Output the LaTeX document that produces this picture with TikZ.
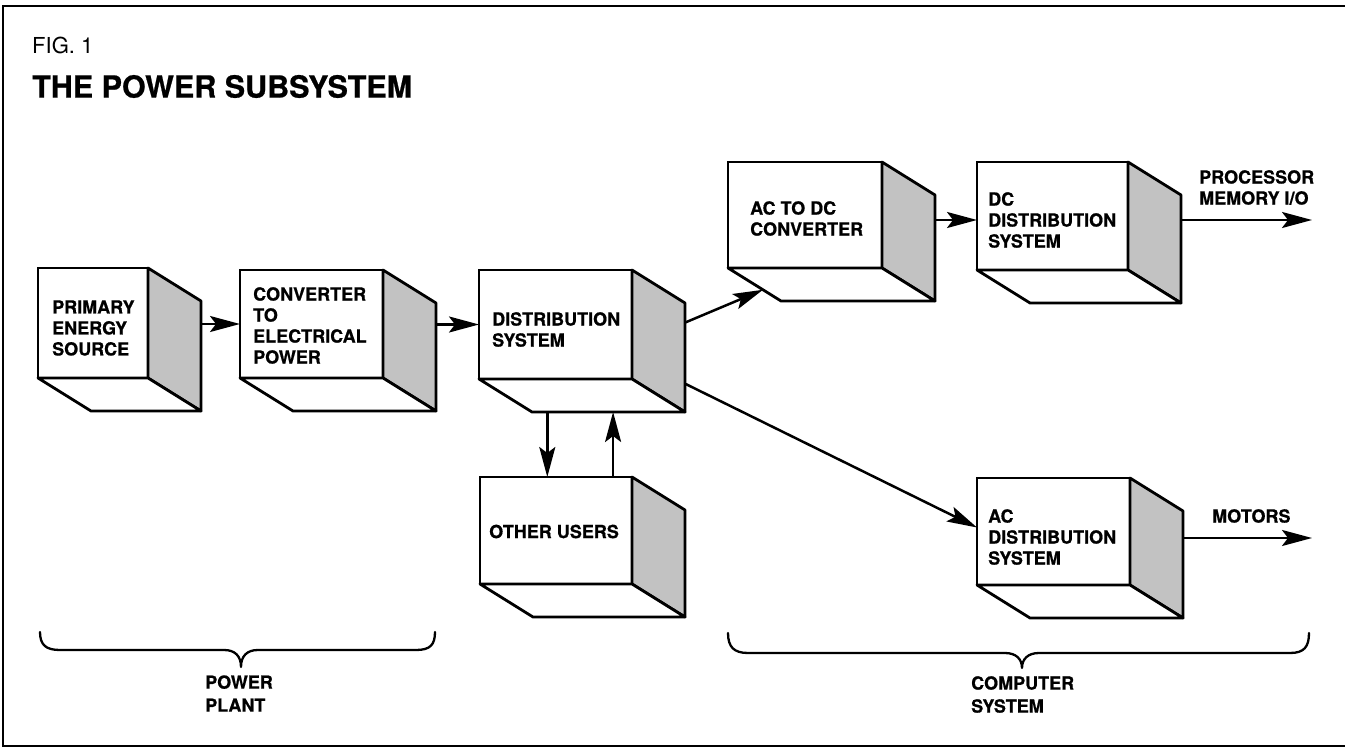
\documentclass[tikz,border=0pt]{standalone}
\usepackage{fontspec}
\setmainfont{TeX Gyre Heros}[BoldFeatures={FakeBold=0.7}]
\usetikzlibrary{arrows.meta,calc}
\newcommand{\cubebox}[5]{%
  \node[frontface, anchor=north west, minimum width={(#4-#2)*1pt}, minimum height={(#5-#3)*1pt}] (#1) at (#2,#3) {};
  \filldraw[sideface] (#1.north east) -- ++(53,33) coordinate (#1-rt) -- ++(0,{#5-#3}) coordinate (#1-rb) -- (#1.south east) -- cycle;
  \filldraw[bottomface] (#1.south west) -- ++(53,33) coordinate (#1-bl) -- (#1-rb) -- (#1.south east) -- cycle;
}
\begin{document}
\begin{tikzpicture}[x=1pt,y=-1pt,
  frontface/.style={draw=black, fill=white, line width=2.8pt, inner sep=0pt, outer sep=0pt},
  sideface/.style={draw=black, fill=black!24, line width=2.8pt, line join=round},
  bottomface/.style={draw=black, fill=white, line width=2.8pt, line join=round},
  lbl/.style={font=\fontsize{18}{21}\selectfont\bfseries, align=left, inner sep=0pt, anchor=west},
  grouplbl/.style={font=\fontsize{18}{23}\selectfont\bfseries, align=left, inner sep=0pt, anchor=west},
  arr/.style={line width=2.5pt, -{Stealth[length=30pt,width=16pt,inset=6pt]}},
  bracestyle/.style={line width=2.3pt, line cap=round, line join=round}]
\useasboundingbox (0,0) rectangle (1345,751);
\fill[white] (0,0) rectangle (1345,751);
% frame
\draw[line width=1.8pt] (1346,6) -- (3,6) -- (3,746) -- (1346,746);
% title
\node[font=\fontsize{22}{24}\selectfont, inner sep=0pt, anchor=west] (fig) at (32,45) {FIG. 1};
\node[font=\fontsize{30.5}{34}\selectfont\bfseries, inner sep=0pt, anchor=west] (title) at (32,86.5) {THE POWER SUBSYSTEM};
% boxes
\cubebox{primary}{38}{268}{148}{378}
\cubebox{conv}{240}{270}{383}{378}
\cubebox{dist}{479}{270}{632}{379}
\cubebox{others}{480}{477}{632}{584}
\cubebox{acdc}{728}{162}{882}{268}
\cubebox{dcdist}{977}{162}{1128}{270}
\cubebox{acdist}{977}{478}{1130}{585}
% box labels
\node[lbl] (tprimary) at (52,328) {PRIMARY\\ENERGY\\SOURCE};
\node[lbl] (tconv) at (253,325.5) {CONVERTER\\TO\\ELECTRICAL\\POWER};
\node[lbl] (tdist) at (492,329.5) {DISTRIBUTION\\SYSTEM};
\node[lbl] (tothers) at (489,531.5) {OTHER USERS};
\node[lbl] (tacdc) at (750,218.5) {AC TO DC\\CONVERTER};
\node[lbl] (tdcdist) at (988,220) {DC\\DISTRIBUTION\\SYSTEM};
\node[lbl] (tacdist) at (988,537) {AC\\DISTRIBUTION\\SYSTEM};
\node[lbl] (tpmio) at (1199,187.5) {PROCESSOR\\MEMORY I/O};
\node[lbl] (tmotors) at (1212,516) {MOTORS};
% connectors
\draw[arr] (primary-rt |- conv.west) -- (conv.west);
\draw[arr] (conv-rt |- dist.west) -- (dist.west);
\draw[arr] ($(dist-rt)!0.18!(dist-rb)$) -- ($(acdc.south west)!0.66!(acdc-bl)$);
\draw[arr] ($(dist-rt)!0.74!(dist-rb)$) -- ($(acdist.west)+(0,-4)$);
\draw[arr] ($(dist-bl)!0.1!(dist-rb)$) coordinate (dn) -- (dn |- others.north);
\coordinate (up) at ($(dist-bl)!0.53!(dist-rb)$);
\draw[arr] (up |- others.north) -- (up);
\coordinate (dcin) at ($(dcdist.west)+(0,4)$);
\draw[arr] (acdc-rt |- dcin) -- (dcin);
\coordinate (pmioend) at (1312,220);
\draw[arr] (dcdist-rt |- pmioend) -- (pmioend);
\coordinate (motend) at (1312,538);
\draw[arr] (acdist-rt |- motend) -- (motend);
% braces
\draw[bracestyle] (40,632) .. controls (40,645) and (46,650) .. (60,650) -- (224,650) .. controls (235,650) and (241,656) .. (241,667) .. controls (241,656) and (247,650) .. (258,650) -- (416,650) .. controls (430,650) and (435,645) .. (435,632);
\draw[bracestyle] (728,633) .. controls (728,647) and (734,653) .. (748,653) -- (1005,653) .. controls (1016,653) and (1022,659) .. (1022,668) .. controls (1022,659) and (1028,653) .. (1039,653) -- (1290,653) .. controls (1304,653) and (1309,647) .. (1309,633);
\node[grouplbl] (tplant) at (205,693.5) {POWER\\PLANT};
\node[grouplbl] (tcomp) at (971,694.5) {COMPUTER\\SYSTEM};
\end{tikzpicture}
\end{document}
